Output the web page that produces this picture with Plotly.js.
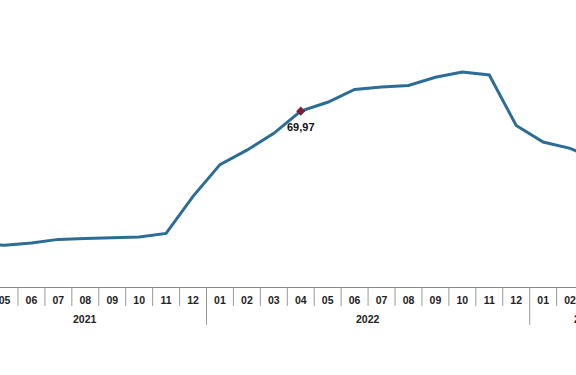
<!DOCTYPE html>
<html>
<head>
<meta charset="utf-8">
<script src="https://cdn.plot.ly/plotly-3.0.1.min.js"></script>
<style>html,body{margin:0;padding:0;background:#fff;}#chart{width:576px;height:375px;}</style>
</head>
<body>
<div id="chart"></div>
<script>
// Periods (year-month) and annual values
const periods = ["2021-04","2021-05","2021-06","2021-07","2021-08","2021-09","2021-10","2021-11","2021-12",
  "2022-01","2022-02","2022-03","2022-04","2022-05","2022-06","2022-07","2022-08","2022-09","2022-10","2022-11","2022-12",
  "2023-01","2023-02","2023-03"];
const values = [17.14,16.59,17.53,18.95,19.25,19.58,19.89,21.31,36.08,
  48.69,54.44,61.14,69.97,73.50,78.62,79.60,80.21,83.45,85.51,84.39,64.27,
  57.68,55.18,50.51];
const monthLabels = periods.map(p => p.slice(5));
const highlightPeriod = "2022-04";
const highlightLabel = "69,97";
const years = ["2021","2022","2023"];

const FONT = "Liberation Sans, Arial, sans-serif";
const iFirst = periods.indexOf("2021-05");
const xr = [iFirst - 0.167, iFirst + 21.22];
const hi = periods.indexOf(highlightPeriod);

const shapes = [];
for (let i = 0; i < periods.length - 1; i++) {
  const isYear = periods[i+1].slice(5) === "01";
  shapes.push({type:"line", xref:"x", yref:"paper", x0:i+0.5, x1:i+0.5, y0:0, y1: isYear ? -0.132 : -0.066,
    line:{color:"#999999", width:1}, layer:"above"});
}

const yearPos = {"2021": 2.98 + iFirst, "2022": periods.indexOf("2022-01") + 5.5, "2023": periods.indexOf("2023-01") + (572 - 543.2)/26.93};
const annotations = years.map(y => ({
  x: yearPos[y], y: -0.112, xref:"x", yref:"paper", text: "<b>"+y+"</b>", showarrow:false,
  xanchor: y === "2023" ? "left" : "center", yanchor:"middle",
  font:{family:FONT, size:10.5, color:"#222"}
}));
annotations.push({x: hi, y: values[hi], xref:"x", yref:"y", text:"<b>"+highlightLabel+"</b>", showarrow:false,
  yshift:-16, font:{family:FONT, size:11, color:"#111"}});

const data = [
  {x: periods.map((p,i)=>i), y: values, type:"scatter", mode:"lines",
   line:{color:"#2c6d96", width:3}, hoverinfo:"skip"},
  {x:[hi], y:[values[hi]], type:"scatter", mode:"markers",
   marker:{symbol:"diamond", size:7, color:"#7a1f3a"}, hoverinfo:"skip"}
];

const layout = {
  width:576, height:375,
  margin:{l:0, r:0, t:0, b:88},
  paper_bgcolor:"#fff", plot_bgcolor:"#fff",
  showlegend:false,
  xaxis:{range:xr, tickvals: periods.map((p,i)=>i), ticktext: monthLabels.map(m=>"<b>"+m+"</b>"),
    showgrid:false, zeroline:false, showline:true, linecolor:"#888", linewidth:1,
    ticks:"", ticklabelstandoff:3, ticklabeloverflow:"allow",
    tickfont:{family:FONT, size:10.5, color:"#222"}},
  yaxis:{range:[0,114.2], visible:false, showgrid:false, zeroline:false},
  shapes: shapes,
  annotations: annotations
};
Plotly.newPlot("chart", data, layout, {staticPlot:true, displayModeBar:false});
</script>
</body>
</html>
